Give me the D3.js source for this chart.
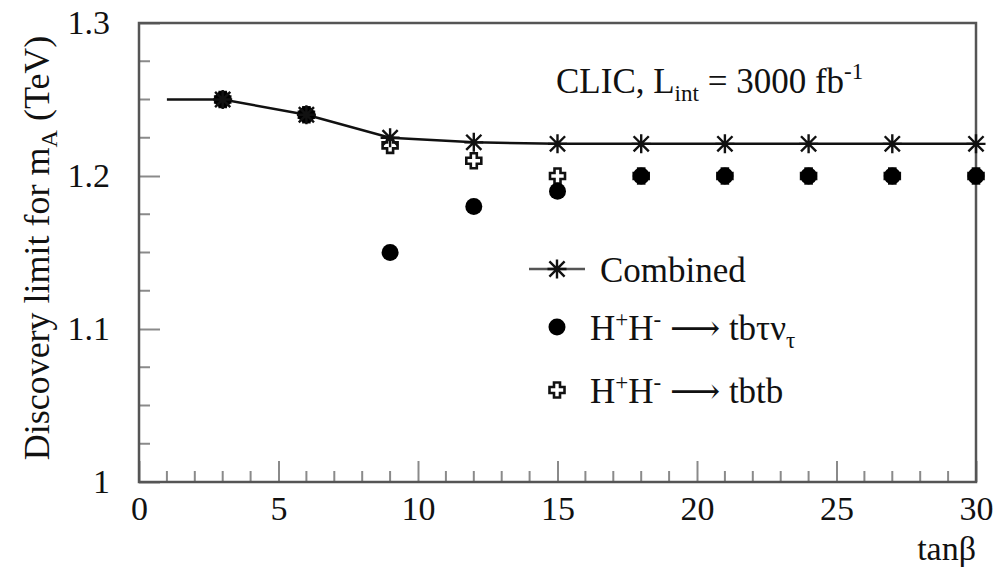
<!DOCTYPE html>
<html><head><meta charset="utf-8">
<script src="https://cdn.jsdelivr.net/npm/d3@7"></script>
<style>
body{margin:0;background:#fff;}
text{font-family:"Liberation Serif","Tinos","Times New Roman","DejaVu Serif",serif;fill:#111;}
</style></head>
<body><svg id="c" width="996" height="571"></svg>
<script>
// ---- data ----
const tanBeta = [3, 6, 9, 12, 15, 18, 21, 24, 27, 30];
const combinedLineX = [1, 3, 6, 9, 12, 15, 18, 21, 24, 27, 30];
const combinedLineY = [1.25, 1.25, 1.24, 1.225, 1.222, 1.221, 1.221, 1.221, 1.221, 1.221, 1.221];
const combined = [1.25, 1.24, 1.225, 1.222, 1.221, 1.221, 1.221, 1.221, 1.221, 1.221];
const tbtaunu = [1.25, 1.24, 1.15, 1.18, 1.19, 1.20, 1.20, 1.20, 1.20, 1.20];
const tbtb = [1.25, 1.24, 1.22, 1.21, 1.20, 1.20, 1.20, 1.20, 1.20, 1.20];
const xMajorTicks = [0, 5, 10, 15, 20, 25, 30];
const yMajorTicks = [1.0, 1.1, 1.2, 1.3];

const svg = d3.select("#c");
const x = d3.scaleLinear().domain([0, 30]).range([139, 976]);
const y = d3.scaleLinear().domain([1.0, 1.3]).range([482, 23]);

const tickCol = "#8a8a8a";
const xMinor = d3.range(0, 31, 1).filter(v => v % 5 !== 0);
const yMinor = d3.range(0, 13).map(i => 1 + i * 0.025).filter((v, i) => i % 4 !== 0);

svg.append("g").selectAll("line").data(xMinor).join("line")
  .attr("x1", d => x(d)).attr("x2", d => x(d)).attr("y1", y(1)).attr("y2", y(1) - 11)
  .attr("stroke", tickCol).attr("stroke-width", 2);
svg.append("g").selectAll("line").data(yMinor).join("line")
  .attr("y1", d => y(d)).attr("y2", d => y(d)).attr("x1", x(0)).attr("x2", x(0) + 11)
  .attr("stroke", tickCol).attr("stroke-width", 2);

const fmt = d => String(+d.toFixed(1));
const gx = svg.append("g").attr("transform", `translate(0,${y(1)})`)
  .call(d3.axisBottom(x).tickValues(xMajorTicks).tickSize(-21).tickPadding(14).tickFormat(fmt));
const gy = svg.append("g").attr("transform", `translate(${x(0)},0)`)
  .call(d3.axisLeft(y).tickValues(yMajorTicks).tickSize(-21).tickPadding(29).tickFormat(fmt));
[gx, gy].forEach(g => {
  g.attr("font-family", null);
  g.select(".domain").remove();
  g.selectAll(".tick line").attr("stroke", tickCol).attr("stroke-width", 2);
  g.selectAll(".tick text").attr("font-size", 34).attr("fill", "#111");
});

svg.append("rect").attr("x", x(0)).attr("y", y(1.3)).attr("width", x(30) - x(0)).attr("height", y(1) - y(1.3))
  .attr("fill", "none").attr("stroke", "#555").attr("stroke-width", 2.5);

svg.append("path").datum(combinedLineX.map((v, i) => [v, combinedLineY[i]]))
  .attr("d", d3.line().x(d => x(d[0])).y(d => y(d[1])))
  .attr("fill", "none").attr("stroke", "#111").attr("stroke-width", 2.5);

function crossPath(s, a) {
  return `M${-a},${-s}H${a}V${-a}H${s}V${a}H${a}V${s}H${-a}V${a}H${-s}V${-a}H${-a}Z`;
}
function drawCross(g, cx, cy) {
  g.append("path").attr("d", crossPath(7.5, 3)).attr("transform", `translate(${cx},${cy})`)
    .attr("fill", "#fff").attr("stroke", "#111").attr("stroke-width", 2.6).attr("stroke-linejoin", "miter");
}
function drawDot(g, cx, cy) {
  g.append("circle").attr("cx", cx).attr("cy", cy).attr("r", 8.5).attr("fill", "#000");
}
function drawStar(g, cx, cy) {
  const r = 9.5, d = r * 0.8;
  const p = `M${-r},0H${r}M0,${-r}V${r}M${-d},${-d}L${d},${d}M${-d},${d}L${d},${-d}`;
  g.append("path").attr("d", p).attr("transform", `translate(${cx},${cy})`)
    .attr("stroke", "#111").attr("stroke-width", 2.4).attr("fill", "none");
}

const gm = svg.append("g");
tanBeta.forEach((t, i) => drawCross(gm, x(t), y(tbtb[i])));
tanBeta.forEach((t, i) => drawDot(gm, x(t), y(tbtaunu[i])));
tanBeta.forEach((t, i) => drawStar(gm, x(t), y(combined[i])));

const lg = svg.append("g");
lg.append("line").attr("x1", 529).attr("x2", 585).attr("y1", 269).attr("y2", 269)
  .attr("stroke", "#555").attr("stroke-width", 2.5);
drawStar(lg, 557, 269);
drawDot(lg, 557, 327);
drawCross(lg, 557, 390);
const FS = 35;
lg.append("text").attr("x", 600).attr("y", 282).attr("font-size", FS).text("Combined");
const t2 = lg.append("text").attr("x", 590).attr("y", 340).attr("font-size", FS);
t2.append("tspan").text("H");
t2.append("tspan").attr("font-size", 23).attr("dy", -13).text("+");
t2.append("tspan").attr("dy", 13).text("H");
t2.append("tspan").attr("font-size", 23).attr("dy", -13).text("-");
t2.append("tspan").attr("dy", 13).text(" ⟶ tbτν");
t2.append("tspan").attr("font-size", 23).attr("dy", 8).text("τ");
const t3 = lg.append("text").attr("x", 590).attr("y", 403).attr("font-size", FS);
t3.append("tspan").text("H");
t3.append("tspan").attr("font-size", 23).attr("dy", -13).text("+");
t3.append("tspan").attr("dy", 13).text("H");
t3.append("tspan").attr("font-size", 23).attr("dy", -13).text("-");
t3.append("tspan").attr("dy", 13).text(" ⟶ tbtb");

const tc = svg.append("text").attr("x", 556).attr("y", 93).attr("font-size", FS);
tc.append("tspan").text("CLIC, L");
tc.append("tspan").attr("font-size", 23).attr("dy", 8).text("int");
tc.append("tspan").attr("dy", -8).text(" = 3000 fb");
tc.append("tspan").attr("font-size", 23).attr("dy", -14).text("-1");

svg.append("text").attr("x", 976).attr("y", 560).attr("text-anchor", "end").attr("font-size", 34).text("tanβ");
const yl = svg.append("text").attr("transform", "translate(49,248) rotate(-90)")
  .attr("text-anchor", "middle").attr("font-size", 36);
yl.append("tspan").text("Discovery limit for m");
yl.append("tspan").attr("font-size", 24).attr("dy", 8).text("A");
yl.append("tspan").attr("dy", -8).text(" (TeV)");
</script></body></html>
